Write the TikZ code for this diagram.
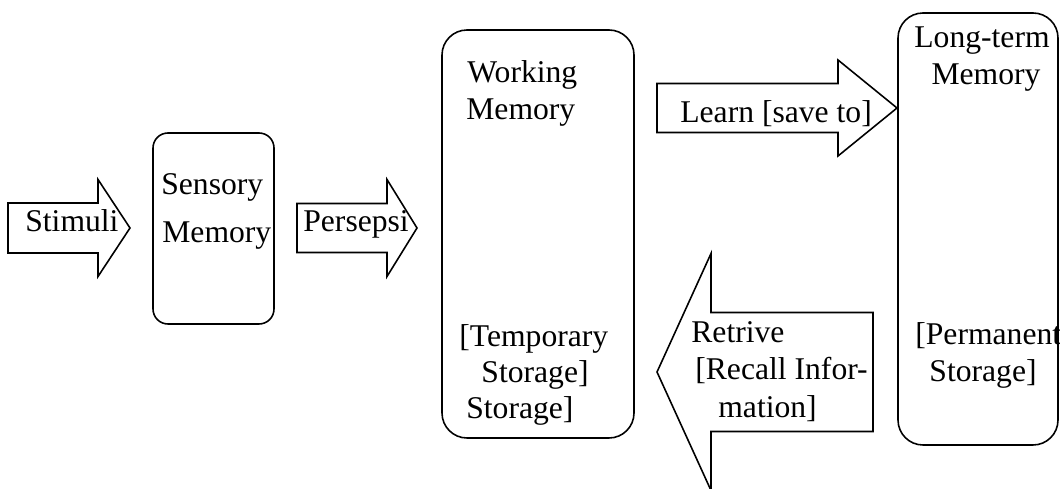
\documentclass[tikz,border=0pt]{standalone}
\usepackage{fontspec}
\setmainfont{Liberation Serif}

\tikzset{
  membox/.style={draw, line width=0.9pt, rectangle, rounded corners=0.5cm, inner sep=0pt},
  arrowline/.style={draw, line width=0.9pt, line join=miter},
  lbl/.style={inner sep=0pt, anchor=base west, font=\fontsize{18}{21}\selectfont},
  clbl/.style={lbl, anchor=base}
}
% tail x, mid y, head base x, tip x, shaft half width, head half width
\newcommand{\blockarrow}[6]{%
  \draw[arrowline] ({#1},{#2+#5}) -- ({#3},{#2+#5}) -- ({#3},{#2+#6}) -- ({#4},{#2})
    -- ({#3},{#2-#6}) -- ({#3},{#2-#5}) -- ({#1},{#2-#5}) -- cycle;}

\begin{document}
\begin{tikzpicture}
\useasboundingbox (0,0) rectangle (21.2,9.76);
% memory stores
\node[membox, rounded corners=0.3cm, minimum width=2.42cm, minimum height=3.82cm] (sensory) at (4.27,5.19) {};
\node[membox, minimum width=3.84cm, minimum height=8.16cm] (working) at (10.76,5.08) {};
\node[membox, minimum width=3.2cm, minimum height=8.64cm] (longterm) at (19.56,5.18) {};

% block arrows
\blockarrow{0.16}{5.2}{1.96}{2.6}{0.5}{0.97}
\blockarrow{5.94}{5.2}{7.74}{8.34}{0.49}{0.97}
\blockarrow{13.14}{7.6}{16.76}{17.94}{0.49}{0.96}
\blockarrow{17.46}{2.32}{14.22}{13.14}{1.19}{2.37}

% labels
\node[lbl] (stimulitxt) at (0.5,5.12) {Stimuli}; \node[lbl] (persepsitxt) at (6.06,5.12) {Persepsi};
\node[lbl] (sensory1) at (3.22,5.86) {Sensory}; \node[lbl] (sensory2) at (3.24,4.9) {Memory};
\node[lbl] (working1) at (9.34,8.1) {Working}; \node[lbl] (working2) at (9.32,7.36) {Memory};
\node[lbl] (working3) at (9.18,2.82) {[Temporary}; \node[clbl] (working4) at (10.7,2.1) {Storage]}; \node[lbl] (working5) at (9.32,1.4) {Storage]};
\node[lbl] (learntxt) at (13.6,7.3) {Learn [save to]};
\node[lbl] (retrive1) at (13.82,2.9) {Retrive}; \node[lbl] (retrive2) at (13.9,2.16) {[Recall Infor-}; \node[lbl] (retrive3) at (14.36,1.42) {mation]};
\node[clbl] (longterm1) at (19.64,8.8) {Long-term}; \node[clbl] (longterm2) at (19.72,8.06) {Memory};
\node[lbl] (longterm3) at (18.3,2.86) {[Permanent}; \node[clbl] (longterm4) at (19.66,2.12) {Storage]};
\end{tikzpicture}
\end{document}
